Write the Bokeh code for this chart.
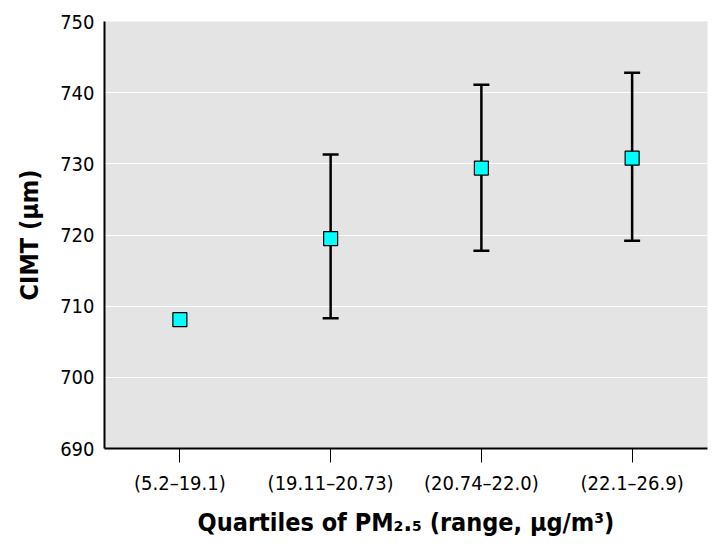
from bokeh.plotting import figure
from bokeh.models import ColumnDataSource, Whisker, TeeHead
from bokeh.embed import file_html
from bokeh.resources import INLINE

# ---- data ----
categories = ["(5.2–19.1)", "(19.11–20.73)", "(20.74–22.0)", "(22.1–26.9)"]
cimt = [708.1, 719.5, 729.4, 730.8]
err_cats = ["(19.11–20.73)", "(20.74–22.0)", "(22.1–26.9)"]
err_lower = [708.3, 717.8, 719.2]
err_upper = [731.3, 741.1, 742.8]
y_ticks = [690, 700, 710, 720, 730, 740, 750]
x_title = "Quartiles of PM₂.₅ (range, μg/m³)"
y_title = "CIMT (μm)"

FONT = "DejaVu Sans Condensed, Roboto"

p = figure(
    width=718, height=551,
    x_range=categories, y_range=(690, 750),
    output_backend="svg", toolbar_location=None,
    min_border_left=104, min_border_right=11,
    min_border_top=21, min_border_bottom=103,
)
p.background_fill_color = "#E4E4E4"
p.border_fill_color = "white"
p.outline_line_color = None

p.xgrid.grid_line_color = None
p.ygrid.grid_line_color = "white"
p.ygrid.grid_line_width = 1

# axes
p.yaxis.ticker = y_ticks
p.yaxis.axis_line_width = 2
p.yaxis.axis_line_color = "black"
p.yaxis.major_tick_out = 0
p.yaxis.major_tick_in = 0
p.yaxis.minor_tick_line_color = None
p.yaxis.major_label_text_font = FONT
p.yaxis.major_label_text_font_size = "20px"
p.yaxis.major_label_text_color = "black"
p.yaxis.major_label_standoff = 10
p.yaxis.axis_label = y_title
p.yaxis.axis_label_text_font = FONT
p.yaxis.axis_label_text_font_style = "bold"
p.yaxis.axis_label_text_font_size = "25px"
p.yaxis.axis_label_text_color = "black"
p.yaxis.axis_label_standoff = 13

p.xaxis.axis_line_width = 2
p.xaxis.axis_line_color = "black"
p.xaxis.major_tick_out = 14
p.xaxis.major_tick_in = 0
p.xaxis.major_tick_line_color = "black"
p.xaxis.major_tick_line_width = 1
p.xaxis.major_label_text_font = FONT
p.xaxis.major_label_text_font_size = "20px"
p.xaxis.major_label_text_color = "black"
p.xaxis.major_label_standoff = 8
p.xaxis.axis_label = x_title
p.xaxis.axis_label_text_font = FONT
p.xaxis.axis_label_text_font_style = "bold"
p.xaxis.axis_label_text_font_size = "25px"
p.xaxis.axis_label_text_color = "black"
p.xaxis.axis_label_standoff = 10

# error bars
esrc = ColumnDataSource(dict(x=err_cats, lower=err_lower, upper=err_upper))
w = Whisker(
    source=esrc, base="x", lower="lower", upper="upper",
    line_color="black", line_width=2.5,
    upper_head=TeeHead(size=16, line_color="black", line_width=2.5),
    lower_head=TeeHead(size=16, line_color="black", line_width=2.5),
    level="underlay",
)
p.add_layout(w)

# points
src = ColumnDataSource(dict(x=categories, y=cimt))
p.scatter("x", "y", source=src, marker="square", size=14,
          fill_color="#00FFFF", line_color="black", line_width=1.2)

open("out.html", "w").write(file_html(p, INLINE))
